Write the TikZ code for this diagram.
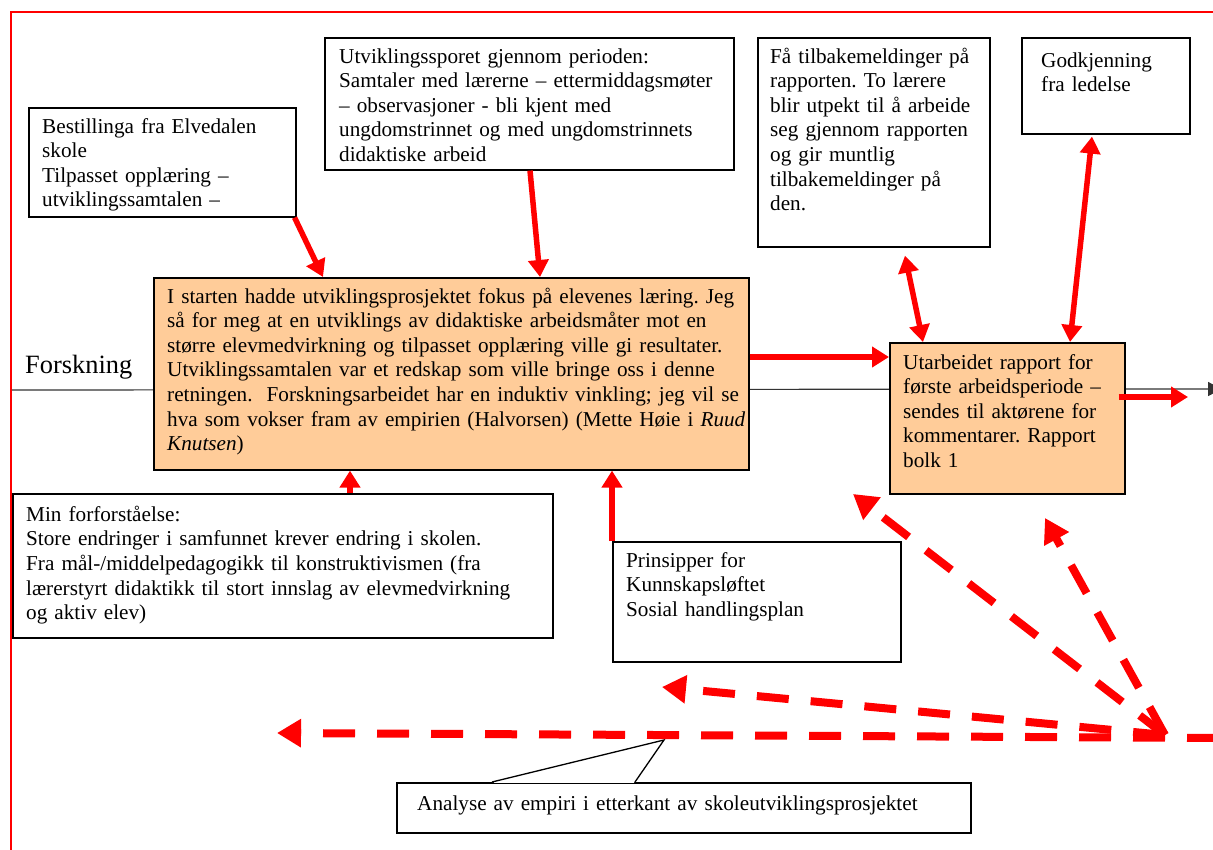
\documentclass[tikz,border=0pt]{standalone}
\usepackage{fontspec}
\setmainfont{Liberation Serif}
\usetikzlibrary{arrows.meta,calc}
\definecolor{boxorange}{HTML}{FFCC99}
\definecolor{pured}{HTML}{FF0000}
\newcommand\firstln{\rule{0pt}{16pt}}
\frenchspacing
\begin{document}
\begin{tikzpicture}[x=1pt,y=-1pt,
  box/.style={draw=black, line width=1.6pt, anchor=north west, inner sep=0pt},
  obox/.style={box, fill=boxorange},
  txt/.style={anchor=north west, inner sep=0pt, align=left, text width=700pt,
    font=\fontsize{21.2pt}{24.6pt}\selectfont},
  redarrow/.style={draw=pured, line width=5.5pt, -{Triangle[length=17pt,width=20pt]}},
  redboth/.style={draw=pured, line width=5.5pt, {Triangle[length=17pt,width=20pt]}-{Triangle[length=17pt,width=20pt]}},
  dasharrow/.style={draw=pured, line width=8pt, dash pattern=on 32pt off 22pt, -{Triangle[length=24pt,width=27pt]}},
  frame/.style={draw=pured, line width=2pt},
  timeline/.style={draw=black!80, line width=1.2pt, -{Triangle[length=14pt,width=14pt]}}
]
\useasboundingbox (0,0) rectangle (1213,850);

% red frame
\coordinate (fc) at (11,12);
\coordinate (fr) at (1213,12);
\coordinate (fb) at (11,850);
\draw[frame] (fr) -- (fc) -- (fb);

% time line
\coordinate (tl) at (12,390);
\coordinate (tr) at (1222,389);
\draw[timeline] (tl) -- (tr);

% boxes
\node[box, minimum width=267pt, minimum height=109pt] (best) at (28,107) {};
\node[box, minimum width=409pt, minimum height=132pt] (utv) at (324,37) {};
\node[box, minimum width=232pt, minimum height=209pt] (faa) at (757,37) {};
\node[box, minimum width=168pt, minimum height=96pt] (god) at (1021,37) {};
\node[obox, minimum width=595pt, minimum height=192pt] (main) at (153,277) {};
\node[obox, minimum width=235pt, minimum height=151pt] (rap) at (889,342) {};
\node[box, minimum width=540pt, minimum height=144pt] (min) at (12,493) {};
\node[box, minimum width=288pt, minimum height=120pt] (prin) at (612,541) {};
\node[box, minimum width=574pt, minimum height=50pt] (ana) at (396,782) {};

% texts
\node[txt] (bestT) at (42,117) {\firstln Bestillinga fra Elvedalen\\skole\\Tilpasset opplæring –\\utviklingssamtalen –};
\node[txt] (utvT) at (339,47) {\firstln Utviklingssporet gjennom perioden:\\Samtaler med lærerne – ettermiddagsmøter\\– observasjoner - bli kjent med\\ungdomstrinnet og med ungdomstrinnets\\didaktiske arbeid};
\node[txt] (faaT) at (770,47) {\firstln Få tilbakemeldinger på\\rapporten. To lærere\\blir utpekt til å arbeide\\seg gjennom rapporten\\og gir muntlig\\tilbakemeldinger på\\den.};
\node[txt] (godT) at (1041,51) {\firstln Godkjenning\\fra ledelse};
\node[txt] (mainT) at (167,287) {\firstln I starten hadde utviklingsprosjektet fokus på elevenes læring. Jeg\\så for meg at en utviklings av didaktiske arbeidsmåter mot en\\større elevmedvirkning og tilpasset opplæring ville gi resultater.\\Utviklingssamtalen var et redskap som ville bringe oss i denne\\retningen.\ \ Forskningsarbeidet har en induktiv vinkling; jeg vil se\\hva som vokser fram av empirien (Halvorsen) (Mette Høie i \textit{Ruud}\\\textit{Knutsen})};
\node[txt] (rapT) at (903,353) {\firstln Utarbeidet rapport for\\første arbeidsperiode –\\sendes til aktørene for\\kommentarer. Rapport\\bolk 1};
\node[txt] (minT) at (26,505) {\firstln Min forforståelse:\\Store endringer i samfunnet krever endring i skolen.\\Fra mål-/middelpedagogikk til konstruktivismen (fra\\lærerstyrt didaktikk til stort innslag av elevmedvirkning\\og aktiv elev)};
\node[txt] (prinT) at (626,551) {\firstln Prinsipper for\\Kunnskapsløftet\\Sosial handlingsplan};
\node[txt] (anaT) at (417,794) {\firstln Analyse av empiri i etterkant av skoleutviklingsprosjektet};
\node[txt, font=\fontsize{26.4pt}{30pt}\selectfont] (forsk) at (25,353) {\rule{0pt}{20pt}Forskning};

% callout pointer
\coordinate (cL) at ($(ana.north west)+(96,0)$);
\coordinate (cR) at ($(ana.north west)+(239,0)$);
\coordinate (cT) at (664,740);
\fill[white] (cL) -- (cT) -- (cR) -- cycle;
\draw[white, line width=2.5pt] ($(cL)+(1.5,0)$) -- ($(cR)+(-1.5,0)$);
\draw[black, line width=1.3pt, line join=miter] (cL) -- (cT) -- (cR);

% solid red arrows
\draw[redarrow] ([xshift=-2pt]best.south east) -- ([xshift=170pt]main.north west);
\draw[redarrow] ([xshift=206pt]utv.south west) -- ([xshift=387pt]main.north west);
\draw[redboth] ([xshift=148pt,yshift=-8pt]faa.south west) -- ([xshift=34pt]rap.north west);
\draw[redboth] ([xshift=71pt,yshift=-2pt]god.south west) -- ([xshift=181pt]rap.north west);
\draw[redarrow] ([yshift=-80pt]main.north east) -- ([yshift=-15pt]rap.north west);
\coordinate (out) at (1188,397);
\draw[redarrow] ([xshift=-7pt,yshift=-55pt]rap.north east) -- (out);
\draw[redarrow] ([xshift=338pt]min.north west) -- ([xshift=197pt]main.south west);
\draw[redarrow] (prin.north west) -- ([xshift=459pt]main.south west);

% dashed red arrows
\coordinate (hub) at (1165,735);
\coordinate (edge) at (1219,738);
\coordinate (d1) at (277,733);
\coordinate (d2) at (662,687);
\coordinate (d3) at (853,494);
\coordinate (d4) at (1045,518);
\draw[dasharrow] (edge) -- (d1);
\draw[dasharrow] (hub) -- (d2);
\draw[dasharrow] (hub) -- (d3);
\draw[dasharrow] (hub) -- (d4);
\end{tikzpicture}
\end{document}
